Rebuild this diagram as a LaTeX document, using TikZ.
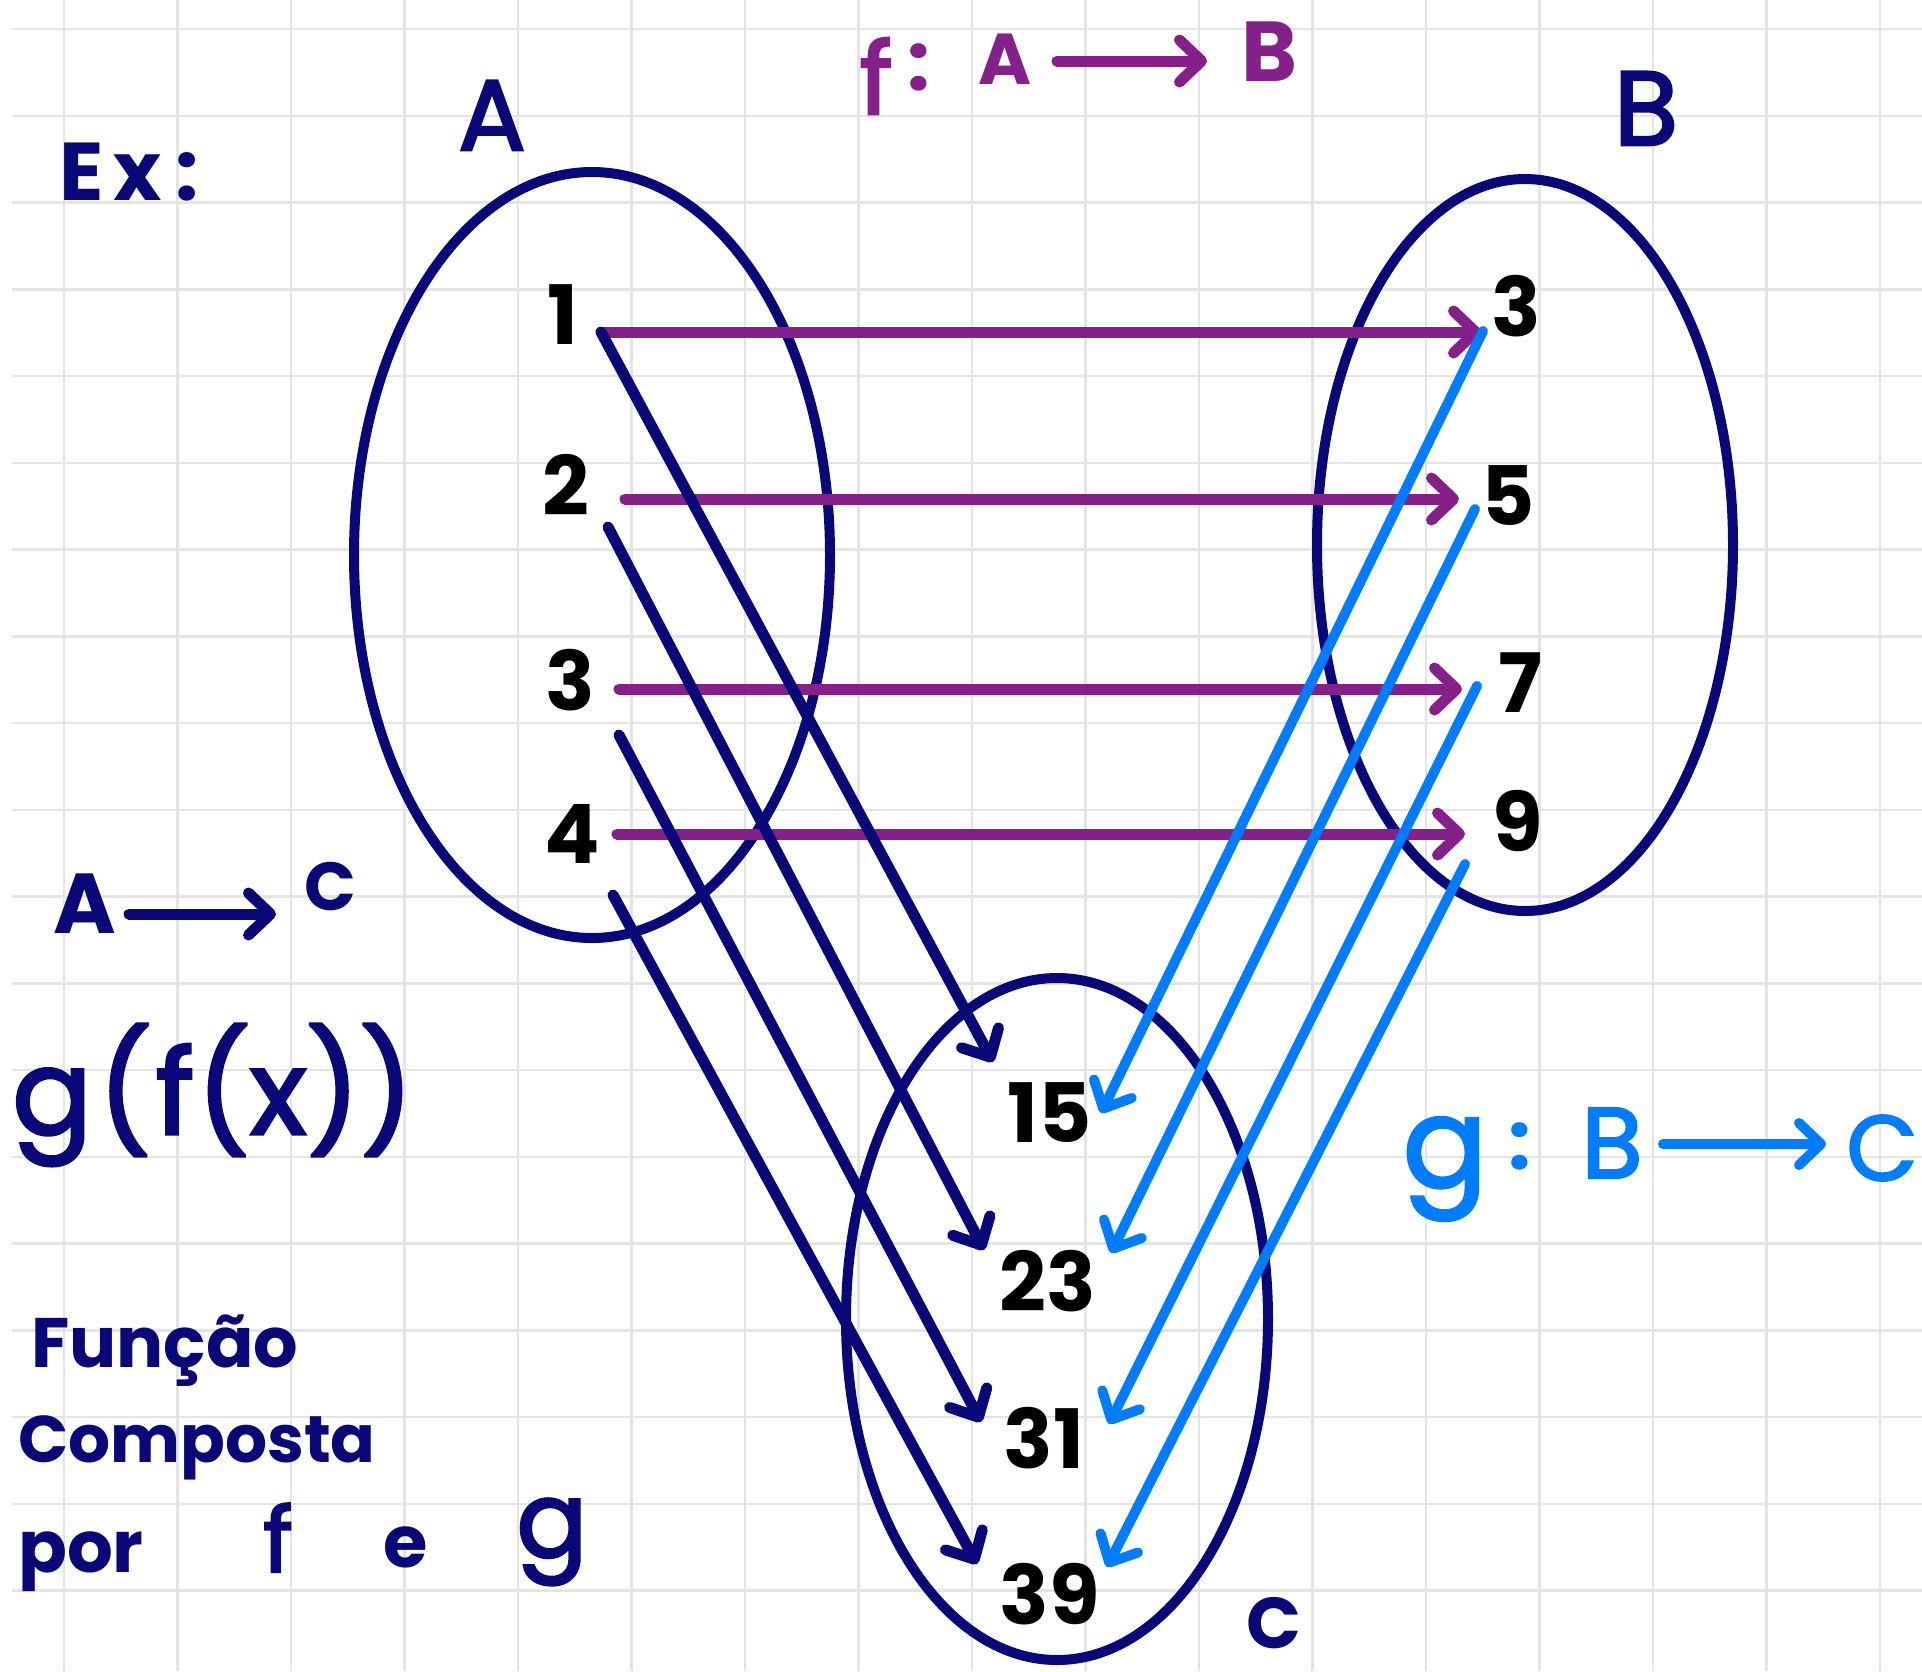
\documentclass[tikz,border=0pt]{standalone}
\usepackage{fontspec}
\setmainfont{Poppins}
\newfontfamily\hw{Poppins}[FakeBold=2.5]
\usetikzlibrary{arrows.meta,shapes.geometric}
\definecolor{navy}{RGB}{8,8,120}
\definecolor{fpurple}{RGB}{133,32,138}
\definecolor{gblue}{RGB}{0,125,255}
\definecolor{gridc}{RGB}{228,228,228}
\tikzset{
  handtip/.style={-{Straight Barb[length=22pt,width=42pt,round]}},
  handline/.style={line cap=round, line join=round, handtip},
  setell/.style={ellipse, draw=navy, line width=10pt, inner sep=0pt},
  fline/.style={handline, draw=fpurple, line width=11pt},
  hline/.style={handline, draw=navy, line width=11pt},
  gline/.style={handline, draw=gblue, line width=10pt},
  gridline/.style={draw=gridc, line width=2.5pt},
  num/.style={font=\fontsize{82}{90}\selectfont\bfseries, text=black, inner sep=0pt},
  lbl/.style={inner sep=0pt},
}
\newcommand{\fsz}[1]{\fontsize{#1}{#1}\selectfont}
\begin{document}
\begin{tikzpicture}[x=1pt,y=-1pt]
\fill[white] (0,0) rectangle (1922,1671);
\useasboundingbox (0,0) rectangle (1922,1671);
% grid
\foreach \k in {0,...,16} \draw[gridline] ({64+113.5*\k},0) -- ({64+113.5*\k},1671);
\foreach \k in {0,...,18} \draw[gridline] (12,{29+86.75*\k}) -- (1922,{29+86.75*\k});

% sets
\node[setell, minimum width=476pt, minimum height=766pt] (setA) at (592,555) {};
\node[setell, minimum width=416pt, minimum height=732pt] (setB) at (1525,545) {};
\node[setell, minimum width=422pt, minimum height=682pt] (setC) at (1057,1319) {};

% elements
\node[num] (a1) at (563,315) {1};
\node[num] (a2) at (566,485) {2};
\node[num] (a3) at (570,680) {3};
\node[num] (a4) at (572,834) {4};
\node[num] (b3) at (1516,306) {3};
\node[num] (b5) at (1508,496) {5};
\node[num] (b7) at (1520,683) {7};
\node[num] (b9) at (1518,821) {9};
\node[num] (c15) at (1050,1113) {15};
\node[num] (c23) at (1048,1281) {23};
\node[num] (c31) at (1044,1438) {31};
\node[num] (c39) at (1050,1594) {39};

% arrow end points
\coordinate (fs1) at (601,332); \coordinate (fe1) at (1481,332);
\coordinate (fs2) at (625,499); \coordinate (fe2) at (1459,499);
\coordinate (fs3) at (619,689); \coordinate (fe3) at (1462,689);
\coordinate (fs4) at (617,834); \coordinate (fe4) at (1465,834);
\coordinate (ns1) at (601,332); \coordinate (ne1) at (993,1062);
\coordinate (ns2) at (608,527); \coordinate (ne2) at (984,1250);
\coordinate (ns3) at (619,735); \coordinate (ne3) at (981,1422);
\coordinate (ns4) at (613,895); \coordinate (ne4) at (977,1564);
\coordinate (gs1) at (1483,331); \coordinate (ge1) at (1101,1113);
\coordinate (gs2) at (1475,509); \coordinate (ge2) at (1111,1253);
\coordinate (gs3) at (1477,686); \coordinate (ge3) at (1109,1424);
\coordinate (gs4) at (1465,864); \coordinate (ge4) at (1107,1567);

% f arrows
\draw[fline] (fs1) -- (fe1);
\draw[fline] (fs2) -- (fe2);
\draw[fline] (fs3) -- (fe3);
\draw[fline] (fs4) -- (fe4);
% composite arrows
\draw[hline] (ns1) -- (ne1);
\draw[hline] (ns2) -- (ne2);
\draw[hline] (ns3) -- (ne3);
\draw[hline] (ns4) -- (ne4);
% g arrows
\draw[gline] (gs1) -- (ge1);
\draw[gline] (gs2) -- (ge2);
\draw[gline] (gs3) -- (ge3);
\draw[gline] (gs4) -- (ge4);

% labels
\node[lbl, text=navy, anchor=base west, font=\fsz{82}\bfseries] (ex) at (59,200) {E\hspace{10pt}x\hspace{14pt}:};
\node[lbl, text=navy, anchor=base, font=\fsz{100}\hw] (labA) at (492,150) {A};
\node[lbl, text=navy, anchor=base, font=\fsz{105}\hw] (labB) at (1646,145) {B};
\node[lbl, text=navy, anchor=base, font=\fsz{72}\bfseries] (labC) at (1274,1648) {C};

% f : A -> B
\node[lbl, text=fpurple, font=\fsz{100}\hw] (ff) at (876,76) {f};
\node[lbl, text=fpurple, font=\fsz{80}\bfseries] (fcol) at (919,67) {:};
\node[lbl, text=fpurple, font=\fsz{72}\bfseries] (fA) at (1005,59) {A};
\node[lbl, text=fpurple, font=\fsz{85}\bfseries] (fB) at (1269,52) {B};
\coordinate (fl1) at (1057,61); \coordinate (fl2) at (1207,61);
\draw[fline] (fl1) -- (fl2);

% A -> C
\node[lbl, text=navy, font=\fsz{85}\bfseries] (lA) at (85,904) {A};
\node[lbl, text=navy, font=\fsz{68}\bfseries] (lC) at (330,887) {C};
\coordinate (ll1) at (129,914); \coordinate (ll2) at (276,914);
\draw[hline] (ll1) -- (ll2);

% g(f(x))
\node[lbl, text=navy, font=\fsz{118}\hw] (gfx) at (213,1095) {g\hspace{6pt}(\hspace{4pt}f\hspace{2pt}(x))};

% g : B -> C
\node[lbl, text=gblue, font=\fsz{125}\hw] (gg) at (1445,1169) {g};
\node[lbl, text=gblue, font=\fsz{80}\bfseries] (gcol) at (1520,1146) {:};
\node[lbl, text=gblue, font=\fsz{100}\hw] (gB) at (1612,1143) {B};
\node[lbl, text=gblue, font=\fsz{92}\hw] (gC) at (1882,1148) {C};
\coordinate (gl1) at (1663,1144); \coordinate (gl2) at (1826,1144);
\draw[gline] (gl1) -- (gl2);

% text bottom left
\node[lbl, text=navy, anchor=base west, font=\fsz{70}\bfseries] (t1) at (31,1367) {Função};
\node[lbl, text=navy, anchor=base west, font=\fsz{66}\bfseries] (t2) at (18,1462) {Composta};
\node[lbl, text=navy, anchor=base west, font=\fsz{72}\bfseries] (t3) at (18,1572) {por};
\node[lbl, text=navy, anchor=base, font=\fsz{90}\hw] (t4) at (278,1572) {f};
\node[lbl, text=navy, anchor=base, font=\fsz{72}\bfseries] (t5) at (406,1567) {e};
\node[lbl, text=navy, anchor=base, font=\fsz{105}\hw] (t6) at (552,1557) {g};
\end{tikzpicture}
\end{document}
